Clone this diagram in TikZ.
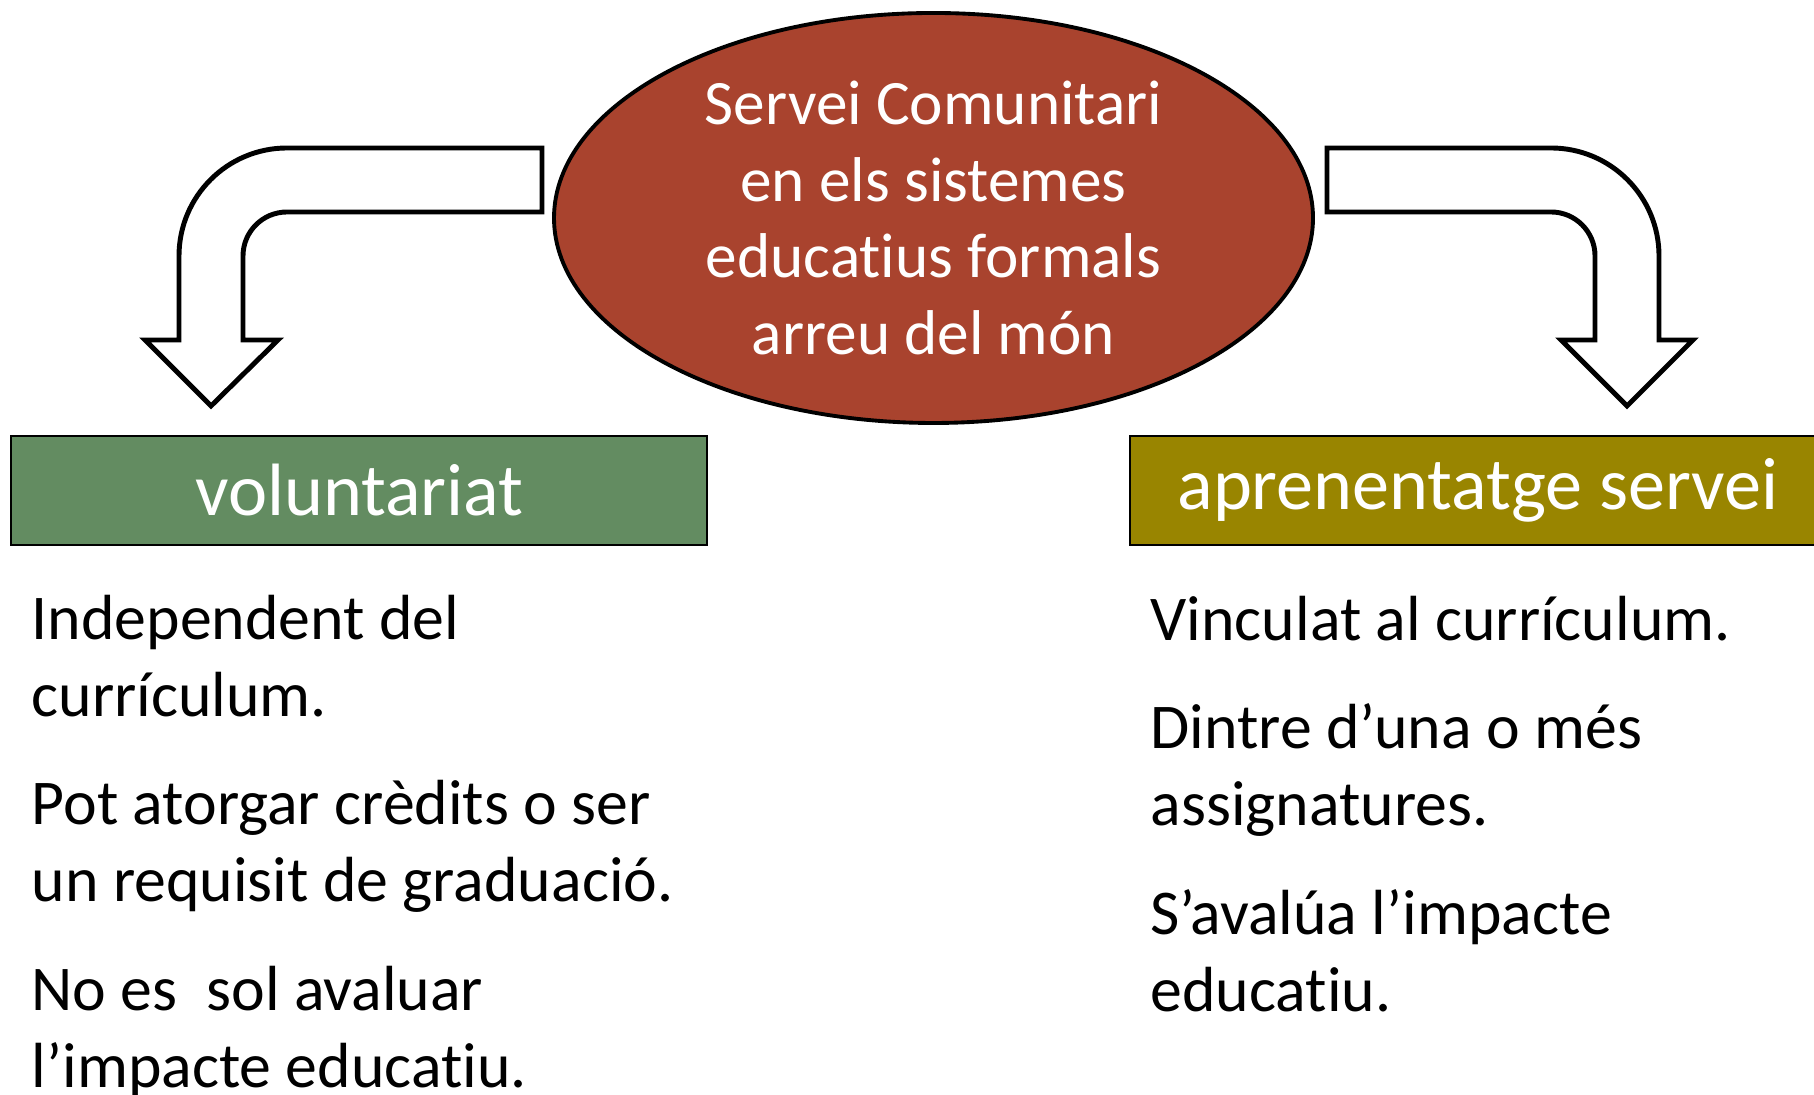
\documentclass[tikz,border=0pt]{standalone}
\usepackage{fontspec}
\setmainfont{Carlito}[Ligatures=NoCommon]
\usetikzlibrary{shapes.geometric}
\definecolor{ovalred}{RGB}{169,67,46}
\definecolor{volgreen}{RGB}{99,140,97}
\definecolor{aprolive}{RGB}{153,133,0}
\tikzset{
  bent-arrow/.style={
    draw=black,
    fill=white,
    line width=1.4pt,
    line join=miter
  },
  main-oval/.style={ellipse, draw=black, line width=1.1pt, fill=ovalred, text=white,
    align=center, inner sep=0pt, minimum width=7.59cm, minimum height=4.1cm,
    font=\fontsize{18}{21.8}\selectfont},
  head-box/.style={rectangle, draw=black, line width=0.6pt, text=white, inner sep=0pt,
    minimum width=6.96cm, minimum height=1.09cm, font=\fontsize{21.1}{25}\selectfont},
  body-text/.style={anchor=base west, inner sep=0pt, text width=7.2cm, align=flush left,
    font=\fontsize{18.15}{21.9}\selectfont}
}

\begin{document}
\begin{tikzpicture}
  \clip (0,0) rectangle (18.14,10.95);

  % 1. The two bent arrows (left one turns down to voluntariat)
  \draw[bent-arrow] (5.42,9.47) -- (2.87,9.47) arc[start angle=90, end angle=180, radius=1.08]
    -- (1.79,7.55) -- (1.45,7.55) -- (2.11,6.89) -- (2.78,7.55) -- (2.43,7.55)
    -- (2.43,8.39) arc[start angle=180, end angle=90, radius=0.44] -- (5.42,8.83) -- cycle;

  % right one turns down to aprenentatge servei
  \draw[bent-arrow] (13.27,9.47) -- (15.51,9.47) arc[start angle=90, end angle=0, radius=1.08]
    -- (16.59,7.55) -- (16.93,7.55) -- (16.27,6.89) -- (15.61,7.55) -- (15.95,7.55)
    -- (15.95,8.39) arc[start angle=0, end angle=90, radius=0.44] -- (13.27,8.83) -- cycle;

  % 2. The oval in the middle
  \node[main-oval] (servei) at (9.335,8.77)
    {Servei Comunitari\\en els sistemes\\educatius formals\\arreu del món};

  % 3. The two headings
  \node[head-box, fill=volgreen] (volunt) at (3.593,6.045) {voluntariat};
  \node[head-box, fill=aprolive] (aprenent) at (14.78,6.045) {aprenentatge servei};

  % 4. Text under each heading
  \node[body-text] (vol1) at (0.31,4.555) {Independent del\\currículum.};
  \node[body-text] (vol2) at (0.31,2.705) {Pot atorgar crèdits o ser\\un requisit de graduació.};
  \node[body-text] (vol3) at (0.31,0.845) {No es \ sol avaluar\\l’impacte educatiu.};

  \node[body-text] (apr1) at (11.50,4.545) {Vinculat al currículum.};
  \node[body-text] (apr2) at (11.50,3.465) {Dintre d’una o més\\assignatures.};
  \node[body-text] (apr3) at (11.50,1.605) {S’avalúa l’impacte\\educatiu.};

\end{tikzpicture}
\end{document}
